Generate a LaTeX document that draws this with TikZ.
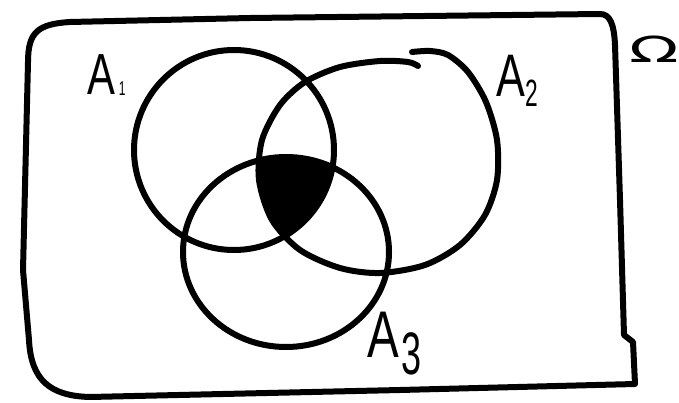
\documentclass[tikz,border=0pt]{standalone}
\usepackage{fontspec}
\usepackage{graphicx}
\newfontfamily\lblfont{Liberation Sans}
\newfontfamily\omfont{DejaVu Sans}
\tikzset{
  pen/.style={line width=6pt, line cap=round, line join=round, black},
  lbl/.style={inner sep=0pt, outer sep=0pt, anchor=base west},
}
\newcommand{\bigA}[1]{\scalebox{0.72}[1]{\fontsize{#1}{#1}\lblfont A}}
\newcommand{\subd}[4]{\hspace{#1}\raisebox{#2}{\scalebox{0.6}[1]{\fontsize{#3}{#3}\lblfont #4}}}
\begin{document}
\begin{tikzpicture}[x=1pt,y=-1pt]
\useasboundingbox (0,0) rectangle (679,403);
% shaded triple intersection
\begin{scope}
  \clip (234,150) circle [radius=100];
  \clip plot[smooth cycle] coordinates {(419,55) (445,55) (468,72) (486,102) (497,140) (497,180) (485,215) (460,245) (425,265) (380,273) (340,268) (300,250) (272,220) (259,180) (262,140) (280,105) (305,82) (340,67) (380,61)};
  \fill (286,252) ellipse [x radius=103, y radius=95];
\end{scope}
% universe
\draw[pen] (28,62) .. controls (28,32) and (38,24) .. (70,22)
  -- (250,18) -- (600,14) .. controls (610,14) and (614,24) .. (615,45)
  -- (620,200) -- (624,335) -- (633,342) -- (635,384)
  -- (400,390) -- (90,397) .. controls (50,396) and (31,380) .. (29,340)
  -- (23,270) -- cycle;
% sets
\draw[pen] (234,150) circle [radius=100];
\draw[pen] plot[smooth] coordinates {(412,52) (430,51) (448,55) (468,72) (486,102) (497,140) (497,180) (485,215) (460,245) (425,265) (380,273) (340,268) (300,250) (272,220) (259,180) (262,140) (280,105) (305,82) (340,67) (380,61) (408,62) (418,66)};
\draw[pen] (286,252) ellipse [x radius=103, y radius=95];
% labels
\node[lbl] (a1) at (87,95) {\bigA{58}\subd{4pt}{-1pt}{20}{1}};
\node[lbl] (a2) at (496,97) {\bigA{60}\subd{1pt}{-10pt}{38}{2}};
\node[lbl] (a3) at (367,357) {\bigA{66}\subd{3pt}{-17pt}{60}{3}};
\node[lbl] (om) at (629,63) {\scalebox{1.8}[1]{\fontsize{36}{36}\omfont Ω}};
\end{tikzpicture}
\end{document}
